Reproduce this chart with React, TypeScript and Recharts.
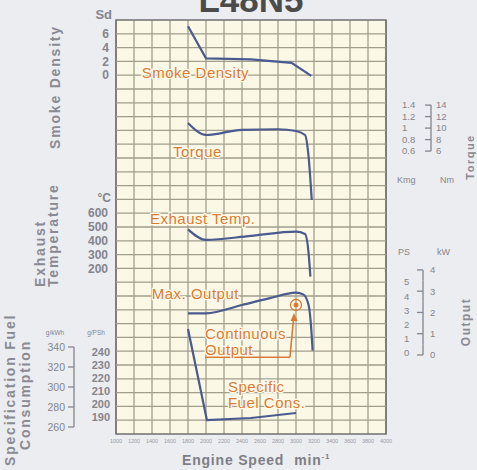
import {
  CartesianGrid,
  Line,
  LineChart,
  ReferenceArea,
  ReferenceDot,
  ReferenceLine,
  XAxis,
  YAxis,
} from 'recharts';

// engine speed (min-1)
const SPEED_TICKS = [1000, 1200, 1400, 1600, 1800, 2000, 2200, 2400, 2600, 2800, 3000, 3200, 3400, 3600, 3800, 4000];
const GRID_ROWS = [1, 2, 3, 4, 5, 6, 7, 8, 9, 10, 11, 12, 13, 14, 15, 16, 17, 18, 19, 20, 21, 22, 23, 24, 25, 26, 27, 28, 29];

const SD_TICKS = [0, 2, 4, 6];
const TEMP_TICKS = [200, 300, 400, 500, 600];
const GKWH_TICKS = [260, 280, 300, 320, 340];
const GPSH_TICKS = [190, 200, 210, 220, 230, 240];
const KGM_TICKS = [0.6, 0.8, 1, 1.2, 1.4];
const NM_TICKS = [6, 8, 10, 12, 14];
const PS_TICKS = [0, 1, 2, 3, 4, 5];
const KW_TICKS = [0, 1, 2, 3, 4];

const SMOKE_RPM = [1800, 2000, 2500, 2950, 3170];
const SMOKE_SD = [7.1, 2.45, 2.3, 1.8, -0.1];

const TORQUE_RPM = [1800, 2000, 2400, 2800, 3000, 3100, 3140, 3175];
const TORQUE_NM = [10.9, 8.8, 9.7, 9.8, 9.5, 8.8, 5.0, -2.5];

const EXHAUST_RPM = [1800, 2000, 2500, 3000, 3100, 3140, 3160];
const EXHAUST_C = [483, 406, 436, 466, 449, 309, 140];

const OUTPUT_RPM = [1800, 2000, 2400, 2700, 3000, 3080, 3140, 3170, 3185];
const OUTPUT_KW = [1.96, 1.96, 2.35, 2.66, 2.93, 2.85, 2.35, 1.2, 0.2];

const SFC_RPM = [1800, 2010, 2500, 3000];
const SFC_GKWH = [358, 267, 269, 274];

// continuous rating point
const CONT_RPM = 3000;
const CONT_KW = 2.35;

const zip = (rpm: number[], vals: number[]) => rpm.map((r, i) => ({ rpm: r, v: vals[i] }));

const FONT = '"Liberation Sans", Arial, sans-serif';
const BLUE = '#4b5a8f';
const ORANGE = '#dc7a33';
const GREY = '#84848c';
const GRID = '#a19e8c';

const PLOT_H = 414;
const DOM: Record<string, [number, number]> = {
  sd: [-52, 8],
  temp: [-1000, 2000],
  gkwh: [253, 667],
  gpsh: [176.9, 495.4],
  kgm: [-4.32, 2.88],
  nm: [-43.2, 28.8],
  ps: [-5.7, 23.45],
  kw: [-3.72, 15.76],
};
const halfStep = (id: string, step: number) => ((step / 2) * PLOT_H) / (DOM[id][1] - DOM[id][0]);

// tick label with the bracket that joins the two unit scales
const bracketTick =
  (lineDx: number, half: number, lo: number, hi: number, anchor: 'start' | 'end', size: number) =>
  (p: any) => {
    const { x, y, payload } = p;
    const bx = x + lineDx;
    const y1 = payload.value === hi ? y : y - half;
    const y2 = payload.value === lo ? y : y + half;
    return (
      <g>
        <line x1={bx - 6} y1={y} x2={bx} y2={y} stroke={GREY} strokeWidth={1.3} />
        <line x1={bx} y1={y1} x2={bx} y2={y2} stroke={GREY} strokeWidth={1.3} />
        <text x={x} y={y} dy="0.35em" textAnchor={anchor} fontSize={size} fill={GREY} fontFamily={FONT}>
          {payload.value}
        </text>
      </g>
    );
  };

const NOTES = [
  { text: 'Smoke Density', rpm: 1286, value: 0.35, axis: 'sd' },
  { text: 'Torque', rpm: 1633, value: 5.9, axis: 'nm' },
  { text: 'Exhaust Temp.', rpm: 1378, value: 563, axis: 'temp' },
  { text: 'Max. Output', rpm: 1397, value: 2.9, axis: 'kw' },
  { text: 'Continuous', rpm: 1989, value: 1.02, axis: 'kw' },
  { text: 'Output', rpm: 1989, value: 0.23, axis: 'kw' },
  { text: 'Specific', rpm: 2244, value: 300, axis: 'gkwh' },
  { text: 'Fuel Cons.', rpm: 2244, value: 284, axis: 'gkwh' },
];

const noteShape = (text: string) => (p: any) => (
  <text
    x={p.cx}
    y={p.cy}
    dy="0.35em"
    fontSize={15}
    letterSpacing={0.5}
    fontFamily={FONT}
    fill={ORANGE}
    stroke="#fffbea"
    strokeWidth={2.5}
    paintOrder="stroke"
  >
    {text}
  </text>
);

const tickStyle = { fontSize: 12, fill: GREY, fontFamily: FONT, fontWeight: 700 };
const sideStyle = { fontSize: 9.5, fill: GREY, fontFamily: FONT };

const titleProps = {
  fontSize: 14,
  fontWeight: 700,
  letterSpacing: 1.8,
  fill: '#8a8a93',
  fontFamily: FONT,
  dy: '0.35em',
};

export default function App() {
  return (
    <div style={{ position: 'absolute', left: 0, top: 0, width: 477, height: 470, background: '#ecedf1', overflow: 'hidden' }}>
      <LineChart width={477} height={470} margin={{ top: 20, right: 87, bottom: 35, left: 111 }}>
        <XAxis
          type="number"
          dataKey="rpm"
          domain={[1000, 4000]}
          ticks={SPEED_TICKS}
          interval={0}
          height={1}
          axisLine={false}
          tickLine={false}
          tickSize={0}
          tickMargin={5}
          tick={{ fontSize: 5.5, fill: '#9a9aa4', fontFamily: FONT }}
        />
        <YAxis yAxisId="sd" width={1} domain={DOM.sd} allowDataOverflow ticks={SD_TICKS} interval={0}
          axisLine={false} tickLine={false} tickSize={0} tickMargin={4} tick={tickStyle} />
        <YAxis yAxisId="temp" width={1} domain={DOM.temp} allowDataOverflow ticks={TEMP_TICKS} interval={0}
          axisLine={false} tickLine={false} tickSize={0} tickMargin={4} tick={tickStyle} />
        <YAxis yAxisId="gpsh" width={1} domain={DOM.gpsh} allowDataOverflow ticks={GPSH_TICKS} interval={0}
          axisLine={false} tickLine={false} tickSize={0} tickMargin={4} tick={{ ...tickStyle, fontSize: 11 }} />
        <YAxis yAxisId="gkwh" width={1} domain={DOM.gkwh} allowDataOverflow ticks={GKWH_TICKS} interval={0}
          axisLine={false} tickLine={false} tickSize={0} tickMargin={50}
          tick={bracketTick(9, halfStep('gkwh', 20), 260, 340, 'end', 10.5)} />
        <YAxis yAxisId={0} width={1} domain={[0, 30]} allowDataOverflow ticks={GRID_ROWS} interval={0}
          axisLine={false} tickLine={false} tick={false} />
        <YAxis yAxisId="kgm" orientation="right" width={1} domain={DOM.kgm} allowDataOverflow ticks={KGM_TICKS} interval={0}
          axisLine={false} tickLine={false} tickSize={0} tickMargin={16} tick={sideStyle} />
        <YAxis yAxisId="nm" orientation="right" width={1} domain={DOM.nm} allowDataOverflow ticks={NM_TICKS} interval={0}
          axisLine={false} tickLine={false} tickSize={0} tickMargin={48}
          tick={bracketTick(-5, halfStep('nm', 2), 6, 14, 'start', 9.5)} />
        <YAxis yAxisId="ps" orientation="right" width={1} domain={DOM.ps} allowDataOverflow ticks={PS_TICKS} interval={0}
          axisLine={false} tickLine={false} tickSize={0} tickMargin={15} tick={sideStyle} />
        <YAxis yAxisId="kw" orientation="right" width={1} domain={DOM.kw} allowDataOverflow ticks={KW_TICKS} interval={0}
          axisLine={false} tickLine={false} tickSize={0} tickMargin={43}
          tick={bracketTick(-7, halfStep('kw', 1), 0, 4, 'start', 9.5)} />

        <CartesianGrid horizontal={false} stroke={GRID} strokeWidth={1.3} fill="#fbf8e6" />
        {GRID_ROWS.map((r) => (
          <ReferenceLine key={r} yAxisId={0} y={r} stroke={GRID} strokeWidth={1.3} />
        ))}
        <ReferenceArea x1={1000} x2={4000} y1={0} y2={30} fill="none" stroke="#707070" strokeWidth={1.6} fillOpacity={0} />

        <Line yAxisId="sd" data={zip(SMOKE_RPM, SMOKE_SD)} dataKey="v" type="linear" stroke={BLUE} strokeWidth={2.2} dot={false} isAnimationActive={false} />
        <Line yAxisId="nm" data={zip(TORQUE_RPM, TORQUE_NM)} dataKey="v" type="monotone" stroke={BLUE} strokeWidth={2.2} dot={false} isAnimationActive={false} />
        <Line yAxisId="temp" data={zip(EXHAUST_RPM, EXHAUST_C)} dataKey="v" type="monotone" stroke={BLUE} strokeWidth={2.2} dot={false} isAnimationActive={false} />
        <Line yAxisId="kw" data={zip(OUTPUT_RPM, OUTPUT_KW)} dataKey="v" type="monotone" stroke={BLUE} strokeWidth={2.2} dot={false} isAnimationActive={false} />
        <Line yAxisId="gkwh" data={zip(SFC_RPM, SFC_GKWH)} dataKey="v" type="linear" stroke={BLUE} strokeWidth={2.2} dot={false} isAnimationActive={false} />

        {/* continuous output pointer */}
        <ReferenceLine yAxisId="kw" segment={[{ x: 1989, y: -0.11 }, { x: 2933, y: -0.11 }]} stroke={ORANGE} strokeWidth={1.6} />
        <ReferenceLine yAxisId="kw" segment={[{ x: 2933, y: -0.11 }, { x: 2975, y: 1.8 }]} stroke={ORANGE} strokeWidth={1.6} />
        <ReferenceDot
          yAxisId="kw"
          x={2978}
          y={1.97}
          shape={(p: any) => <path d={`M${p.cx},${p.cy} l-3.5,8 l7,0 z`} fill={ORANGE} />}
        />
        <ReferenceDot
          yAxisId="kw"
          x={CONT_RPM}
          y={CONT_KW}
          shape={(p: any) => (
            <g>
              <circle cx={p.cx} cy={p.cy} r={5.5} fill="none" stroke={ORANGE} strokeWidth={1.3} />
              <circle cx={p.cx} cy={p.cy} r={2.5} fill={ORANGE} />
            </g>
          )}
        />

        {NOTES.map((n) => (
          <ReferenceDot key={n.text} yAxisId={n.axis} x={n.rpm} y={n.value} ifOverflow="visible" shape={noteShape(n.text)} />
        ))}
      </LineChart>

      <svg width={477} height={470} style={{ position: 'absolute', left: 0, top: 0, pointerEvents: 'none' }}>
        <text x={251} y={12} textAnchor="middle" fontSize={35} fontWeight={700} fill="#4b4b4b" fontFamily={FONT}>
          L48N5
        </text>

        <text x={55} y={87} textAnchor="middle" transform="rotate(-90 55 87)" {...titleProps}>Smoke Density</text>
        <text x={40} y={287} textAnchor="start" transform="rotate(-90 40 287)" {...titleProps}>Exhaust</text>
        <text x={53} y={287} textAnchor="start" transform="rotate(-90 53 287)" {...titleProps}>Temperature</text>
        <text x={10} y={466} textAnchor="start" transform="rotate(-90 10 466)" {...titleProps}>Specification Fuel</text>
        <text x={25} y={395} textAnchor="middle" transform="rotate(-90 25 395)" {...titleProps}>Consumption</text>

        <text x={470} y={157} textAnchor="middle" transform="rotate(-90 470 157)" {...titleProps} fontSize={11} letterSpacing={1.5}>Torque</text>
        <text x={466} y={322} textAnchor="middle" transform="rotate(-90 466 322)" {...titleProps} fontSize={12} letterSpacing={1.5}>Output</text>

        <g fill={GREY} fontFamily={FONT}>
          <text x={112} y={19} textAnchor="end" fontSize={13} fontWeight={700}>Sd</text>
          <text x={111} y={202} textAnchor="end" fontSize={12} fontWeight={700}>°C</text>
          <text x={55} y={335} textAnchor="middle" fontSize={6.5}>g/kWh</text>
          <text x={96} y={335} textAnchor="middle" fontSize={6.5}>g/PSh</text>
          <text x={397} y={183} fontSize={9}>Kmg</text>
          <text x={440} y={183} fontSize={9}>Nm</text>
          <text x={398} y={255} fontSize={9}>PS</text>
          <text x={437} y={255} fontSize={9}>kW</text>
        </g>

        <text x={182} y={465} fontSize={14} fontWeight={700} letterSpacing={0.8} fill="#7e7e87" fontFamily={FONT}>
          Engine Speed
          <tspan dx={10}>min</tspan>
          <tspan dy={-6} fontSize={8}>-1</tspan>
        </text>
      </svg>
    </div>
  );
}
